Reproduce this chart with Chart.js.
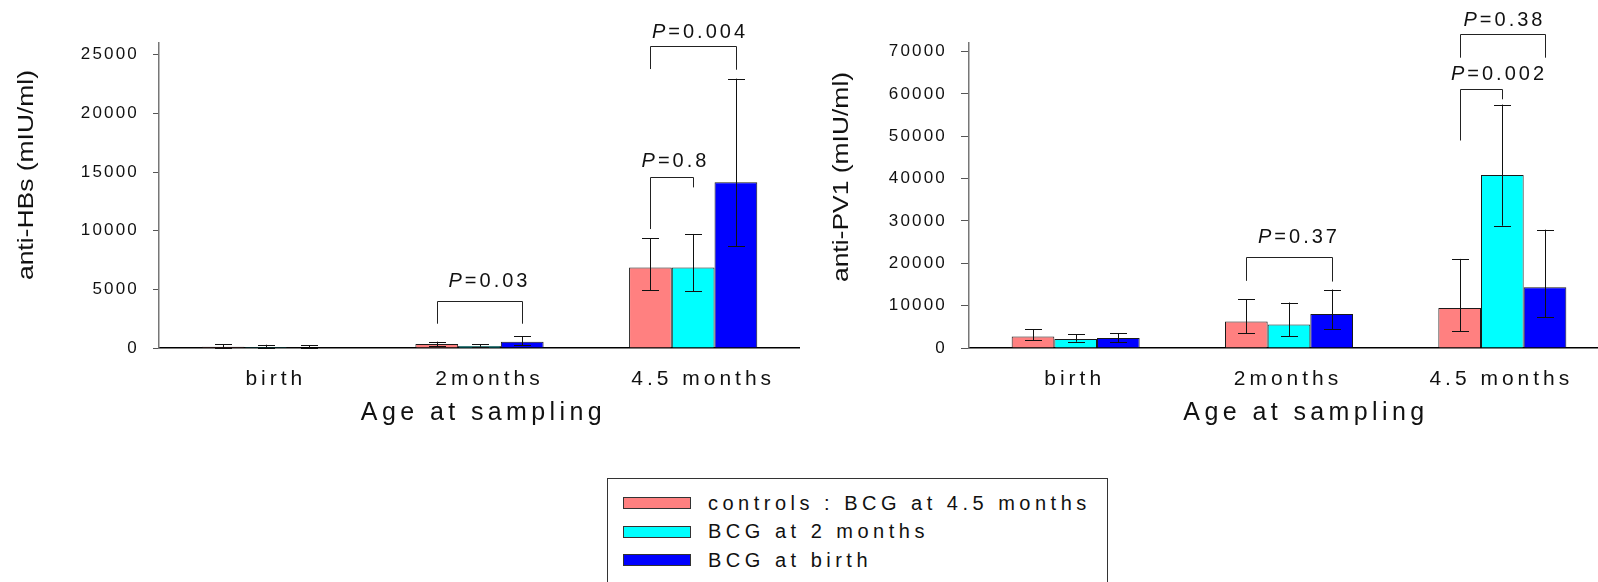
<!DOCTYPE html>
<html><head><meta charset="utf-8">
<script src="https://cdn.jsdelivr.net/npm/chart.js@4/dist/chart.umd.min.js"></script>
<style>
html,body{margin:0;padding:0;background:#fff;width:1598px;height:582px;overflow:hidden;}
#w1{position:absolute;left:0;top:0;width:800px;height:440px;}
#w2{position:absolute;left:800px;top:0;width:809px;height:440px;}
#legend{position:absolute;left:607px;top:478px;width:501px;height:130px;border:1px solid #333;box-sizing:border-box;font-family:'Liberation Sans',Arial,sans-serif;}
.sw{position:absolute;left:15px;width:68px;height:12px;border:1px solid #333;box-sizing:border-box;}
.lt{position:absolute;left:100px;font-size:20px;line-height:20px;letter-spacing:4.5px;color:#111;white-space:nowrap;}
</style></head>
<body>
<div id="w1"><canvas id="c1" width="800" height="440"></canvas></div>
<div id="w2"><canvas id="c2" width="809" height="440"></canvas></div>
<div id="legend"></div>
<script>
// ---------- DATA ----------
const categories = ['birth', '2months', '4.5 months'];
const seriesNames = ['controls : BCG at 4.5 months', 'BCG at 2 months', 'BCG at birth'];

// anti-HBs (mIU/ml): means, upper and lower error bar ends
const hbsControls   = [100, 340, 6860];
const hbsBcg2m      = [80, 170, 6860];
const hbsBcgBirth   = [60, 540, 14140];
const hbsControlsHi = [300, 540, 9350];
const hbsBcg2mHi    = [280, 300, 9720];
const hbsBcgBirthHi = [220, 1020, 22960];
const hbsControlsLo = [20, 170, 4930];
const hbsBcg2mLo    = [10, 110, 4820];
const hbsBcgBirthLo = [10, 230, 8700];
const hbsTicks = [0, 5000, 10000, 15000, 20000, 25000];

// anti-PV1 (mIU/ml)
const pvControls   = [2730, 6260, 9420];
const pvBcg2m      = [2120, 5560, 40810];
const pvBcgBirth   = [2350, 8000, 14370];
const pvControlsHi = [4470, 11450, 21030];
const pvBcg2mHi    = [3300, 10740, 57460];
const pvBcgBirthHi = [3530, 13800, 27930];
const pvControlsLo = [1880, 3440, 4000];
const pvBcg2mLo    = [1480, 2820, 28870];
const pvBcgBirthLo = [1410, 4470, 7300];
const pvTicks = [0, 10000, 20000, 30000, 40000, 50000, 60000, 70000];

// significance brackets: [category, from series, to series, bracket level, left leg end, right leg end, P]
const hbsBrackets = [
  [1, 0, 2, 4020, 2070, 2070, '0.03'],
  [2, 0, 1, 14570, 10140, 13690, '0.8'],
  [2, 0, 2, 25760, 23780, 23720, '0.004']
];
const pvBrackets = [
  [1, 0, 2, 21430, 15850, 15680, '0.37'],
  [2, 0, 1, 61070, 48980, 58710, '0.002'],
  [2, 0, 2, 74020, 68530, 68530, '0.38']
];

// ---------- STYLE ----------
const seriesColors = ['#FF8080', '#00FFFF', '#0000FF'];
const FONT = "'Liberation Sans', Arial, sans-serif";
const hbsBracketText = [[8, 15], [2, 11], [5, 9]];   // [dx px, gap px]
const pvBracketText  = [[8, 15], [16, 10], [0, 9]];

// ---------- legend (HTML) ----------
const lg = document.getElementById('legend');
seriesNames.forEach((n, i) => {
  const sw = document.createElement('div');
  sw.className = 'sw'; sw.style.top = (18 + i * 28.5) + 'px'; sw.style.background = seriesColors[i];
  lg.appendChild(sw);
  const t = document.createElement('div');
  t.className = 'lt'; t.style.top = (13.6 + i * 28.5) + 'px'; t.textContent = n;
  lg.appendChild(t);
});

function drawP(ctx, text, cx, baseline) {
  ctx.save();
  ctx.fillStyle = '#111';
  ctx.textBaseline = 'alphabetic';
  ctx.textAlign = 'left';
  const fi = 'italic 20px ' + FONT, fn = '20px ' + FONT;
  ctx.font = fi; ctx.letterSpacing = '3px'; const w1 = ctx.measureText('P').width;
  ctx.font = fn; ctx.letterSpacing = '3px'; const w2 = ctx.measureText('=' + text).width;
  const x0 = cx - (w1 + w2 - 3) / 2;
  ctx.font = fi; ctx.letterSpacing = '3px'; ctx.fillText('P', x0, baseline);
  ctx.font = fn; ctx.letterSpacing = '3px'; ctx.fillText('=' + text, x0 + w1, baseline);
  ctx.restore();
}

function makeChart(canvasId, o) {
  const datasets = o.means.map((m, i) => ({
    label: seriesNames[i], data: m,
    backgroundColor: seriesColors[i], borderColor: '#1a1a1a', borderWidth: 1,
    categoryPercentage: 0.6, barPercentage: 1.0
  }));

  const annot = {
    id: 'annot',
    afterDatasetsDraw(chart) {
      const ctx = chart.ctx, ys = chart.scales.y;
      ctx.save();
      ctx.strokeStyle = '#111'; ctx.lineWidth = 1;
      // error bars
      o.means.forEach((m, i) => {
        const meta = chart.getDatasetMeta(i);
        meta.data.forEach((bar, j) => {
          const x = Math.round(bar.x) + 0.5;
          const yh = ys.getPixelForValue(o.hi[i][j]);
          const yl = ys.getPixelForValue(o.lo[i][j]);
          ctx.beginPath();
          ctx.moveTo(x, yh); ctx.lineTo(x, yl);
          ctx.moveTo(x - 8.5, Math.round(yh) + 0.5); ctx.lineTo(x + 8.5, Math.round(yh) + 0.5);
          ctx.moveTo(x - 8.5, Math.round(yl) + 0.5); ctx.lineTo(x + 8.5, Math.round(yl) + 0.5);
          ctx.stroke();
        });
      });
      // brackets
      ctx.strokeStyle = '#222';
      o.brackets.forEach((b, k) => {
        const [cat, s1, s2, lvl, l1, l2, p] = b;
        const x1 = Math.round(chart.getDatasetMeta(s1).data[cat].x) + 0.5;
        const x2 = Math.round(chart.getDatasetMeta(s2).data[cat].x) + 0.5;
        const y = Math.round(ys.getPixelForValue(lvl)) + 0.5;
        ctx.beginPath();
        ctx.moveTo(x1, ys.getPixelForValue(l1)); ctx.lineTo(x1, y);
        ctx.lineTo(x2, y); ctx.lineTo(x2, ys.getPixelForValue(l2));
        ctx.stroke();
        const [dx, gap] = o.bracketText[k];
        drawP(ctx, p, (x1 + x2) / 2 + dx, y - gap);
      });
      ctx.restore();
    }
  };

  const textPatch = {
    id: 'textPatch',
    beforeDraw(chart) {
      for (const s of Object.values(chart.scales)) {
        if (s._patched) continue;
        s._patched = true;
        const dl = s.drawLabels.bind(s), dt = s.drawTitle.bind(s);
        const ax = s.axis;
        s.drawLabels = function (area) {
          const ctx = s.ctx; ctx.save();
          ctx.letterSpacing = (ax === 'x' ? 4 : 2.2) + 'px';
          if (ax === 'x') ctx.translate(o.xLabelDx, 0);
          dl(area); ctx.restore();
        };
        s.drawTitle = function () {
          const ctx = s.ctx; ctx.save();
          if (ax === 'y') {
            const c = (s.top + s.bottom) / 2;
            ctx.translate(0, o.yTitleCenter); ctx.scale(1, o.yTitleStretch); ctx.translate(0, -c);
          } else {
            ctx.letterSpacing = '4.4px';
            ctx.translate(o.xTitleDx, 0);
          }
          dt(); ctx.restore();
        };
      }
    }
  };

  return new Chart(document.getElementById(canvasId), {
    type: 'bar',
    data: { labels: categories, datasets },
    plugins: [textPatch, annot],
    options: {
      responsive: false, animation: false, events: [],
      devicePixelRatio: 1,
      layout: { padding: { top: 43, left: 0, right: 0, bottom: 0 } },
      plugins: { legend: { display: false }, tooltip: { enabled: false } },
      scales: {
        x: {
          afterFit: s => { s.height = 92; },
          grid: { display: false, drawTicks: false },
          border: { display: true, color: '#000', width: 1.5 },
          ticks: { color: '#111', font: { family: FONT, size: 21 }, padding: 19 },
          title: { display: true, text: 'Age at sampling', color: '#111',
                   font: { family: FONT, size: 25 }, padding: { top: 0, bottom: 12 } }
        },
        y: {
          min: 0, max: o.yMax,
          afterFit: s => { s.width = o.yWidth; },
          afterBuildTicks: s => { s.ticks = o.ticks.map(v => ({ value: v })); },
          grid: { display: true, drawOnChartArea: false, drawTicks: true, tickLength: o.tickLen, color: '#555', lineWidth: 1 },
          border: { display: true, color: '#777', width: 1.5 },
          ticks: { color: '#111', font: { family: FONT, size: 17 }, padding: 14, callback: v => String(v) },
          title: { display: true, text: o.yTitle, color: '#111',
                   font: { family: FONT, size: 21.5 }, padding: { top: o.yTitlePad, bottom: 0 } }
        }
      }
    }
  });
}

makeChart('c1', {
  means: [hbsControls, hbsBcg2m, hbsBcgBirth],
  hi: [hbsControlsHi, hbsBcg2mHi, hbsBcgBirthHi],
  lo: [hbsControlsLo, hbsBcg2mLo, hbsBcgBirthLo],
  ticks: hbsTicks, yMax: 26000, yWidth: 159, tickLen: 6,
  yTitle: 'anti-HBs (mIU/ml)', yTitlePad: 14, yTitleCenter: 175, yTitleStretch: 1.23,
  xLabelDx: 10, xTitleDx: 4,
  brackets: hbsBrackets, bracketText: hbsBracketText
});
makeChart('c2', {
  means: [pvControls, pvBcg2m, pvBcgBirth],
  hi: [pvControlsHi, pvBcg2mHi, pvBcgBirthHi],
  lo: [pvControlsLo, pvBcg2mLo, pvBcgBirthLo],
  ticks: pvTicks, yMax: 72000, yWidth: 169, tickLen: 8,
  yTitle: 'anti-PV1 (mIU/ml)', yTitlePad: 29, yTitleCenter: 177, yTitleStretch: 1.23,
  xLabelDx: -1, xTitleDx: 17,
  brackets: pvBrackets, bracketText: pvBracketText
});
</script>
</body></html>
